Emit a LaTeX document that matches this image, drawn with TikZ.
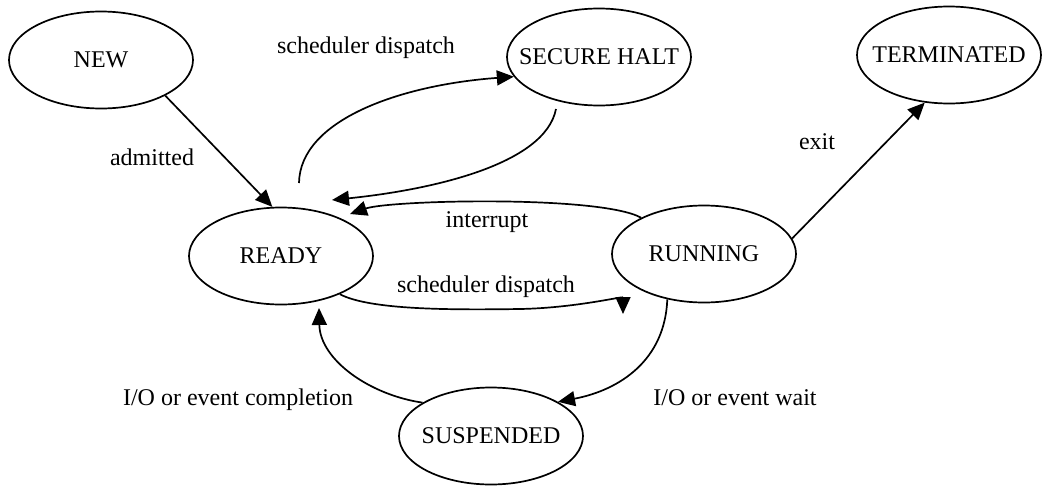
\documentclass[tikz,border=0pt]{standalone}
\usepackage{fontspec}
\setmainfont{Liberation Serif}
\usetikzlibrary{shapes.geometric,arrows.meta}
\begin{document}
\begin{tikzpicture}[x=1pt,y=-1pt,
  state/.style={draw, line width=1.7pt, ellipse, inner sep=0pt,
    minimum width=184pt, minimum height=97pt},
  txt/.style={font=\fontsize{24}{28}\selectfont, inner sep=0pt},
  conn/.style={line width=1.7pt, -{Triangle[length=17pt,width=15pt]}},
]
\useasboundingbox (0,0) rectangle (1042,485);

% states
\node[state, label={[txt]center:NEW}]         (new)   at (101,60)  {};
\node[state, label={[txt]center:SECURE HALT}] (halt)  at (599,57)  {};
\node[state, label={[txt]center:TERMINATED}]  (term)  at (949,55)  {};
\node[state, label={[txt]center:READY}]       (ready) at (281,256) {};
\node[state, label={[txt]center:RUNNING}]     (run)   at (704,254) {};
\node[state, label={[txt]center:SUSPENDED}]   (susp)  at (491,436) {};

% loose ends of the curved transitions
\coordinate (readyUp)   at (299,183);
\coordinate (haltDown)  at (556,109);
\coordinate (haltIn)    at (332,200);
\coordinate (intIn)     at (350,214);
\coordinate (dispIn)    at (623,314);
\coordinate (complIn)   at (319,308);

% transitions
\draw[conn] (new.-29) -- (ready.100);
\draw[conn] (readyUp) .. controls (300,120) and (400,85) .. (halt.193);
\draw[conn] (haltDown) .. controls (545,165) and (430,190) .. (haltIn);
\draw[conn] (run.150) .. controls (600,195) and (390,200) .. (intIn);
\draw[conn] (ready.-33) .. controls (370,310) and (450,310) .. (520,309)
            .. controls (575,308) and (623,296) .. (dispIn);
\draw[conn] (run.-129) .. controls (665,360) and (620,390) .. (susp.27);
\draw[conn] (susp.154) .. controls (370,395) and (320,360) .. (complIn);
\draw[conn] (run.10) -- (term.-117);

% transition labels
\node[txt] (lDispTop) at (366,48)  {scheduler dispatch};
\node[txt] (lAdm)     at (152,157) {admitted};
\node[txt] (lExit)    at (817,142) {exit};
\node[txt] (lInt)     at (487,222) {interrupt};
\node[txt] (lDispLow) at (486,287) {scheduler dispatch};
\node[txt] (lCompl)   at (238,400) {I/O or event completion};
\node[txt] (lWait)    at (735,398) {I/O or event wait};
\end{tikzpicture}
\end{document}
